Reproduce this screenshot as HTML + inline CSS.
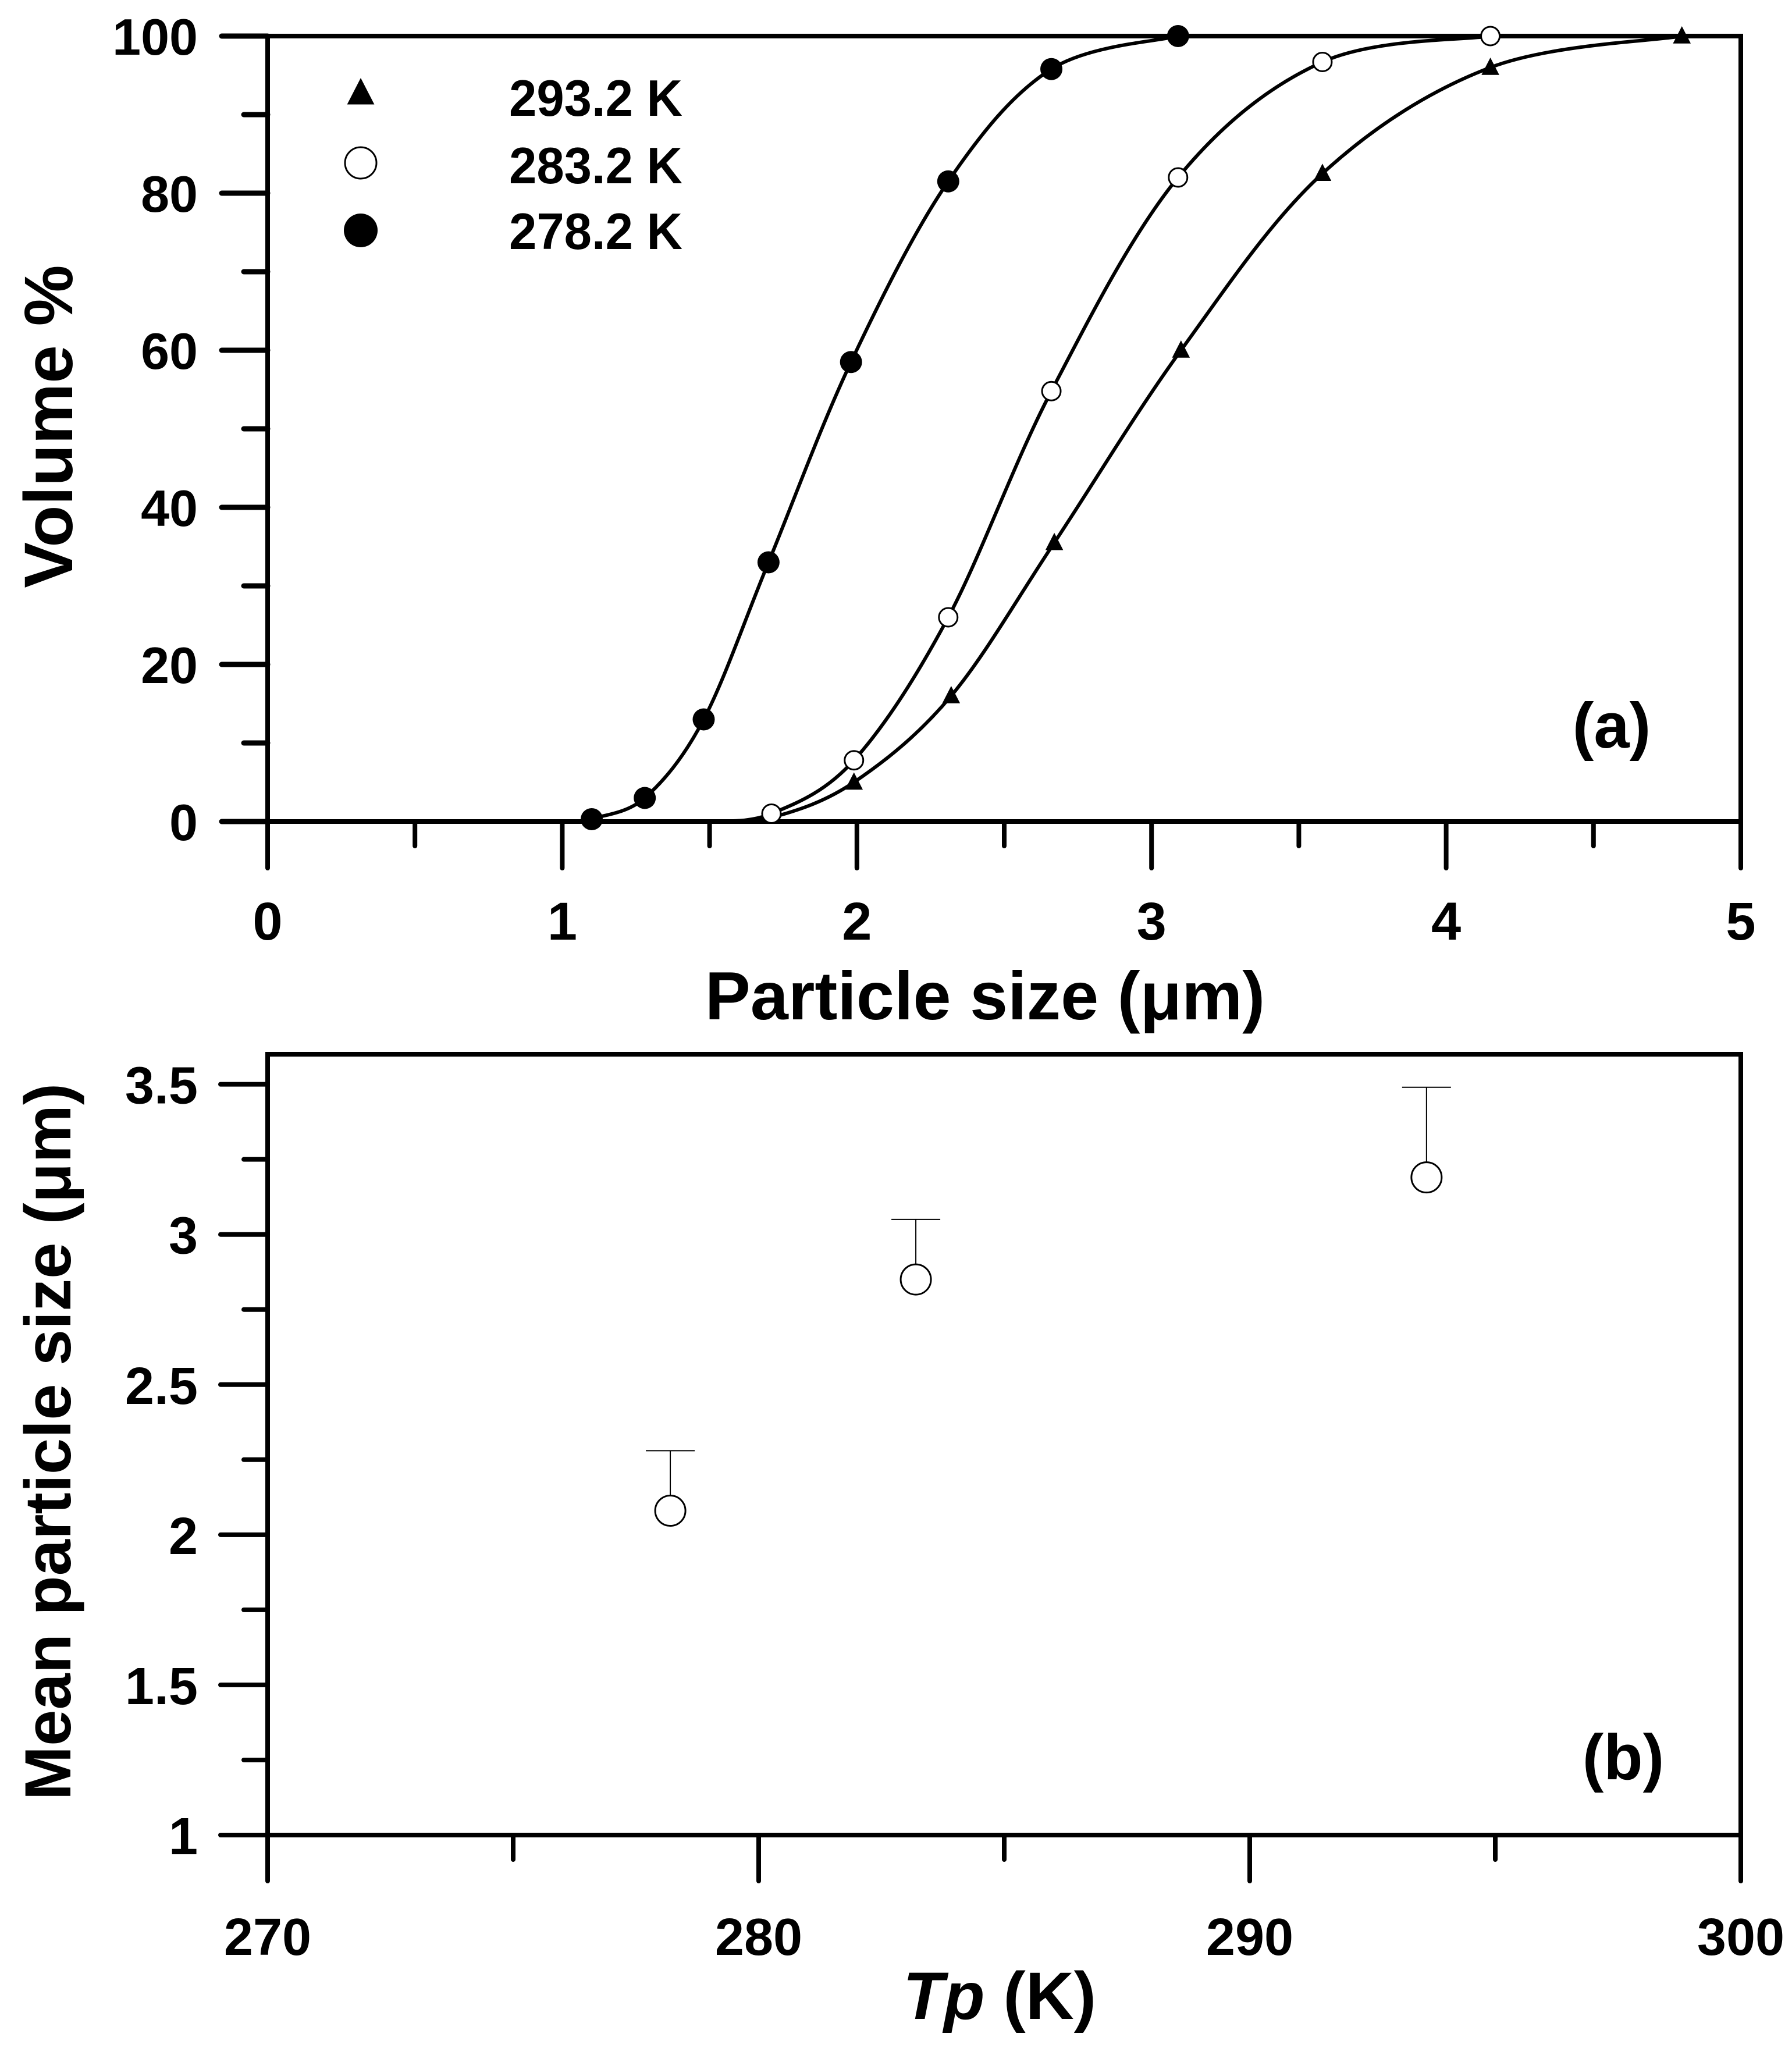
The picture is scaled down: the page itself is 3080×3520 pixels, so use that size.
<!DOCTYPE html>
<html><head><meta charset="utf-8"><style>
html,body{margin:0;padding:0;background:#fff}
svg{display:block}
text{font-family:"Liberation Sans",Arial,sans-serif;font-weight:bold;fill:#000}
</style></head><body>
<svg id="chart" xmlns="http://www.w3.org/2000/svg" width="3080" height="3520" viewBox="0 0 3080 3520">
<g id="pa"></g>
<g id="pb"></g>
</svg>
<script>
// Panel (a) data
const xA278 = [1.1, 1.28, 1.48, 1.7, 1.98, 2.31, 2.66, 3.09];
const yA278 = [0.3, 3, 13, 33, 58.5, 81.5, 95.8, 100];
const xA283 = [1.71, 1.99, 2.31, 2.66, 3.09, 3.58, 4.15];
const yA283 = [1, 7.8, 26, 54.8, 82, 96.7, 100];
const xA293 = [1.99, 2.32, 2.67, 3.1, 3.58, 4.15, 4.8];
const yA293 = [5, 16, 35.5, 60, 82.5, 96, 100];
const xTicksA = [0, 1, 2, 3, 4, 5];
const yTicksA = [0, 20, 40, 60, 80, 100];
const legendLabels = ["293.2 K", "283.2 K", "278.2 K"];
// Panel (b) data
const tempB = [278.2, 283.2, 293.6];
const meanB = [2.08, 2.85, 3.19];
const errB = [0.2, 0.2, 0.3];
const xTicksB = [270, 280, 290, 300];
const yTicksB = [1, 1.5, 2, 2.5, 3, 3.5];
const yLabelsB = ["1", "1.5", "2", "2.5", "3", "3.5"];

const NS = "http://www.w3.org/2000/svg";
function mk(parent, tag, attrs, txt){
  const e = document.createElementNS(NS, tag);
  for (const k in attrs) e.setAttribute(k, attrs[k]);
  if (txt !== undefined) e.textContent = txt;
  parent.appendChild(e);
  return e;
}
const pa = document.getElementById('pa');
const pb = document.getElementById('pb');

// ---------- Panel A ----------
const AL=460, AR=2992, AT=62, AB=1412;
const sxA = v => AL + (v-0)/(5-0)*(AR-AL);
const syA = v => AB - v/100*(AB-AT);

let fr = mk(pa,'rect',{x:AL,y:AT,width:AR-AL,height:AB-AT,fill:'none',stroke:'#000','stroke-width':8});



for (let v=0; v<=5.001; v+=0.5){
  const major = Math.abs(v-Math.round(v))<1e-6;
  const t = mk(pa,'line',{x1:sxA(v),x2:sxA(v),y1:AB,y2:AB+(major?80:42),stroke:'#000','stroke-width':8,'stroke-linecap':'round'});
  
  
}
for (let v=0; v<=100.1; v+=10){
  const major = v%20===0;
  const t = mk(pa,'line',{x1:AL,x2:AL-(major?79:41),y1:syA(v),y2:syA(v),stroke:'#000','stroke-width':9,'stroke-linecap':'round'});
  
  
}
xTicksA.forEach(v=>{
  const t = mk(pa,'text',{x:sxA(v),y:1615,'font-size':92,'text-anchor':'middle'},String(v));
  
  
});
yTicksA.forEach(v=>{
  const t = mk(pa,'text',{x:340,y:syA(v)+32,'font-size':88,'text-anchor':'end'},String(v));
  
  
});
let tt = mk(pa,'text',{x:1693,y:1752,'font-size':117,'text-anchor':'middle'},'Particle size (μm)');


tt = mk(pa,'text',{x:0,y:0,'font-size':118,'text-anchor':'middle',transform:'translate(124,733) rotate(-90)'},'Volume %');


tt = mk(pa,'text',{x:2770,y:1285,'font-size':110,'text-anchor':'middle'},'(a)');



function smoothPath(xs, ys){
  const p = xs.map((x,i)=>[sxA(x), syA(ys[i])]);
  let d = 'M'+p[0][0]+','+p[0][1];
  for (let i=0;i<p.length-1;i++){
    const p0=p[Math.max(i-1,0)], p1=p[i], p2=p[i+1], p3=p[Math.min(i+2,p.length-1)];
    const c1=[p1[0]+(p2[0]-p0[0])/6, p1[1]+(p2[1]-p0[1])/6];
    const c2=[p2[0]-(p3[0]-p1[0])/6, p2[1]-(p3[1]-p1[1])/6];
    d += ' C'+c1[0]+','+c1[1]+' '+c2[0]+','+c2[1]+' '+p2[0]+','+p2[1];
  }
  return d;
}
function curve(xs, ys, name){
  const c = mk(pa,'path',{d:smoothPath(xs,ys),fill:'none',stroke:'#000','stroke-width':6});
  
  
}
curve([1.12].concat(xA278), [0].concat(yA278), 'curve-278k');
curve([1.5].concat(xA283), [0].concat(yA283), 'curve-283k');
curve([1.5,1.71].concat(xA293), [0,0.5].concat(yA293), 'curve-293k');

function tri(g,cx,cy,s){
  return mk(g,'polygon',{points:`${cx},${cy-s} ${cx-s*0.9},${cy+s*0.75} ${cx+s*0.9},${cy+s*0.75}`,fill:'#000'});
}
xA293.forEach((x,i)=>{
  const m = tri(pa,sxA(x),syA(yA293[i]),17);
  
  
});
xA283.forEach((x,i)=>{
  const m = mk(pa,'circle',{cx:sxA(x),cy:syA(yA283[i]),r:16,fill:'#fff',stroke:'#000','stroke-width':3});
  
  
});
xA278.forEach((x,i)=>{
  const m = mk(pa,'circle',{cx:sxA(x),cy:syA(yA278[i]),r:19,fill:'#000'});
  
  
});
// legend
const legY=[160,280,396];
let lm = tri(pa,620,legY[0],26);


lm = mk(pa,'circle',{cx:620,cy:legY[1],r:27,fill:'#fff',stroke:'#000','stroke-width':3});


lm = mk(pa,'circle',{cx:620,cy:legY[2],r:29,fill:'#000'});


const legBase=[199,315,428];
legendLabels.forEach((l,i)=>{
  const t = mk(pa,'text',{x:875,y:legBase[i],'font-size':88,textLength:298,lengthAdjust:'spacingAndGlyphs'},l);
  
  
});

// ---------- Panel B ----------
const BL=460, BR=2992, BT=1812, BB=3154;
const sxB = v => BL + (v-270)/30*(BR-BL);
const syB = v => BB - (v-1)/2.6*(BB-BT);
fr = mk(pb,'rect',{x:BL,y:BT,width:BR-BL,height:BB-BT,fill:'none',stroke:'#000','stroke-width':8});


for (let v=270; v<=300; v+=5){
  const major = v%10===0;
  const t = mk(pb,'line',{x1:sxB(v),x2:sxB(v),y1:BB,y2:BB+(major?79:42),stroke:'#000','stroke-width':8,'stroke-linecap':'round'});
  
  
}
for (let v=1; v<=3.51; v+=0.25){
  const major = Math.abs(v*2-Math.round(v*2))<1e-6;
  const t = mk(pb,'line',{x1:BL,x2:BL-(major?81:41),y1:syB(v),y2:syB(v),stroke:'#000','stroke-width':8,'stroke-linecap':'round'});
  
  
}
xTicksB.forEach(v=>{
  const t = mk(pb,'text',{x:sxB(v),y:3360,'font-size':90,'text-anchor':'middle'},String(v));
  
  
});
yTicksB.forEach((v,i)=>{
  const t = mk(pb,'text',{x:340,y:syB(v)+33,'font-size':90,'text-anchor':'end'},yLabelsB[i]);
  
  
});
tt = mk(pb,'text',{x:1718,y:3470,'font-size':115,'text-anchor':'middle'});


mk(tt,'tspan',{'font-style':'italic'},'Tp');
mk(tt,'tspan',{},' (K)');
tt = mk(pb,'text',{x:0,y:0,'font-size':112,'text-anchor':'middle',transform:'translate(121,2478) rotate(-90)'},'Mean particle size (μm)');


tt = mk(pb,'text',{x:2790,y:3058,'font-size':110,'text-anchor':'middle'},'(b)');


tempB.forEach((t,i)=>{
  const x=sxB(t), y=syB(meanB[i]), ye=syB(meanB[i]+errB[i]);
  const eb = mk(pb,'path',{d:`M${x},${y} L${x},${ye} M${x-42},${ye} L${x+42},${ye}`,stroke:'#000','stroke-width':2,fill:'none'});
  
  
  const c = mk(pb,'circle',{cx:x,cy:y,r:26,fill:'#fff',stroke:'#000','stroke-width':3});
  
  
});
</script>
</body></html>
